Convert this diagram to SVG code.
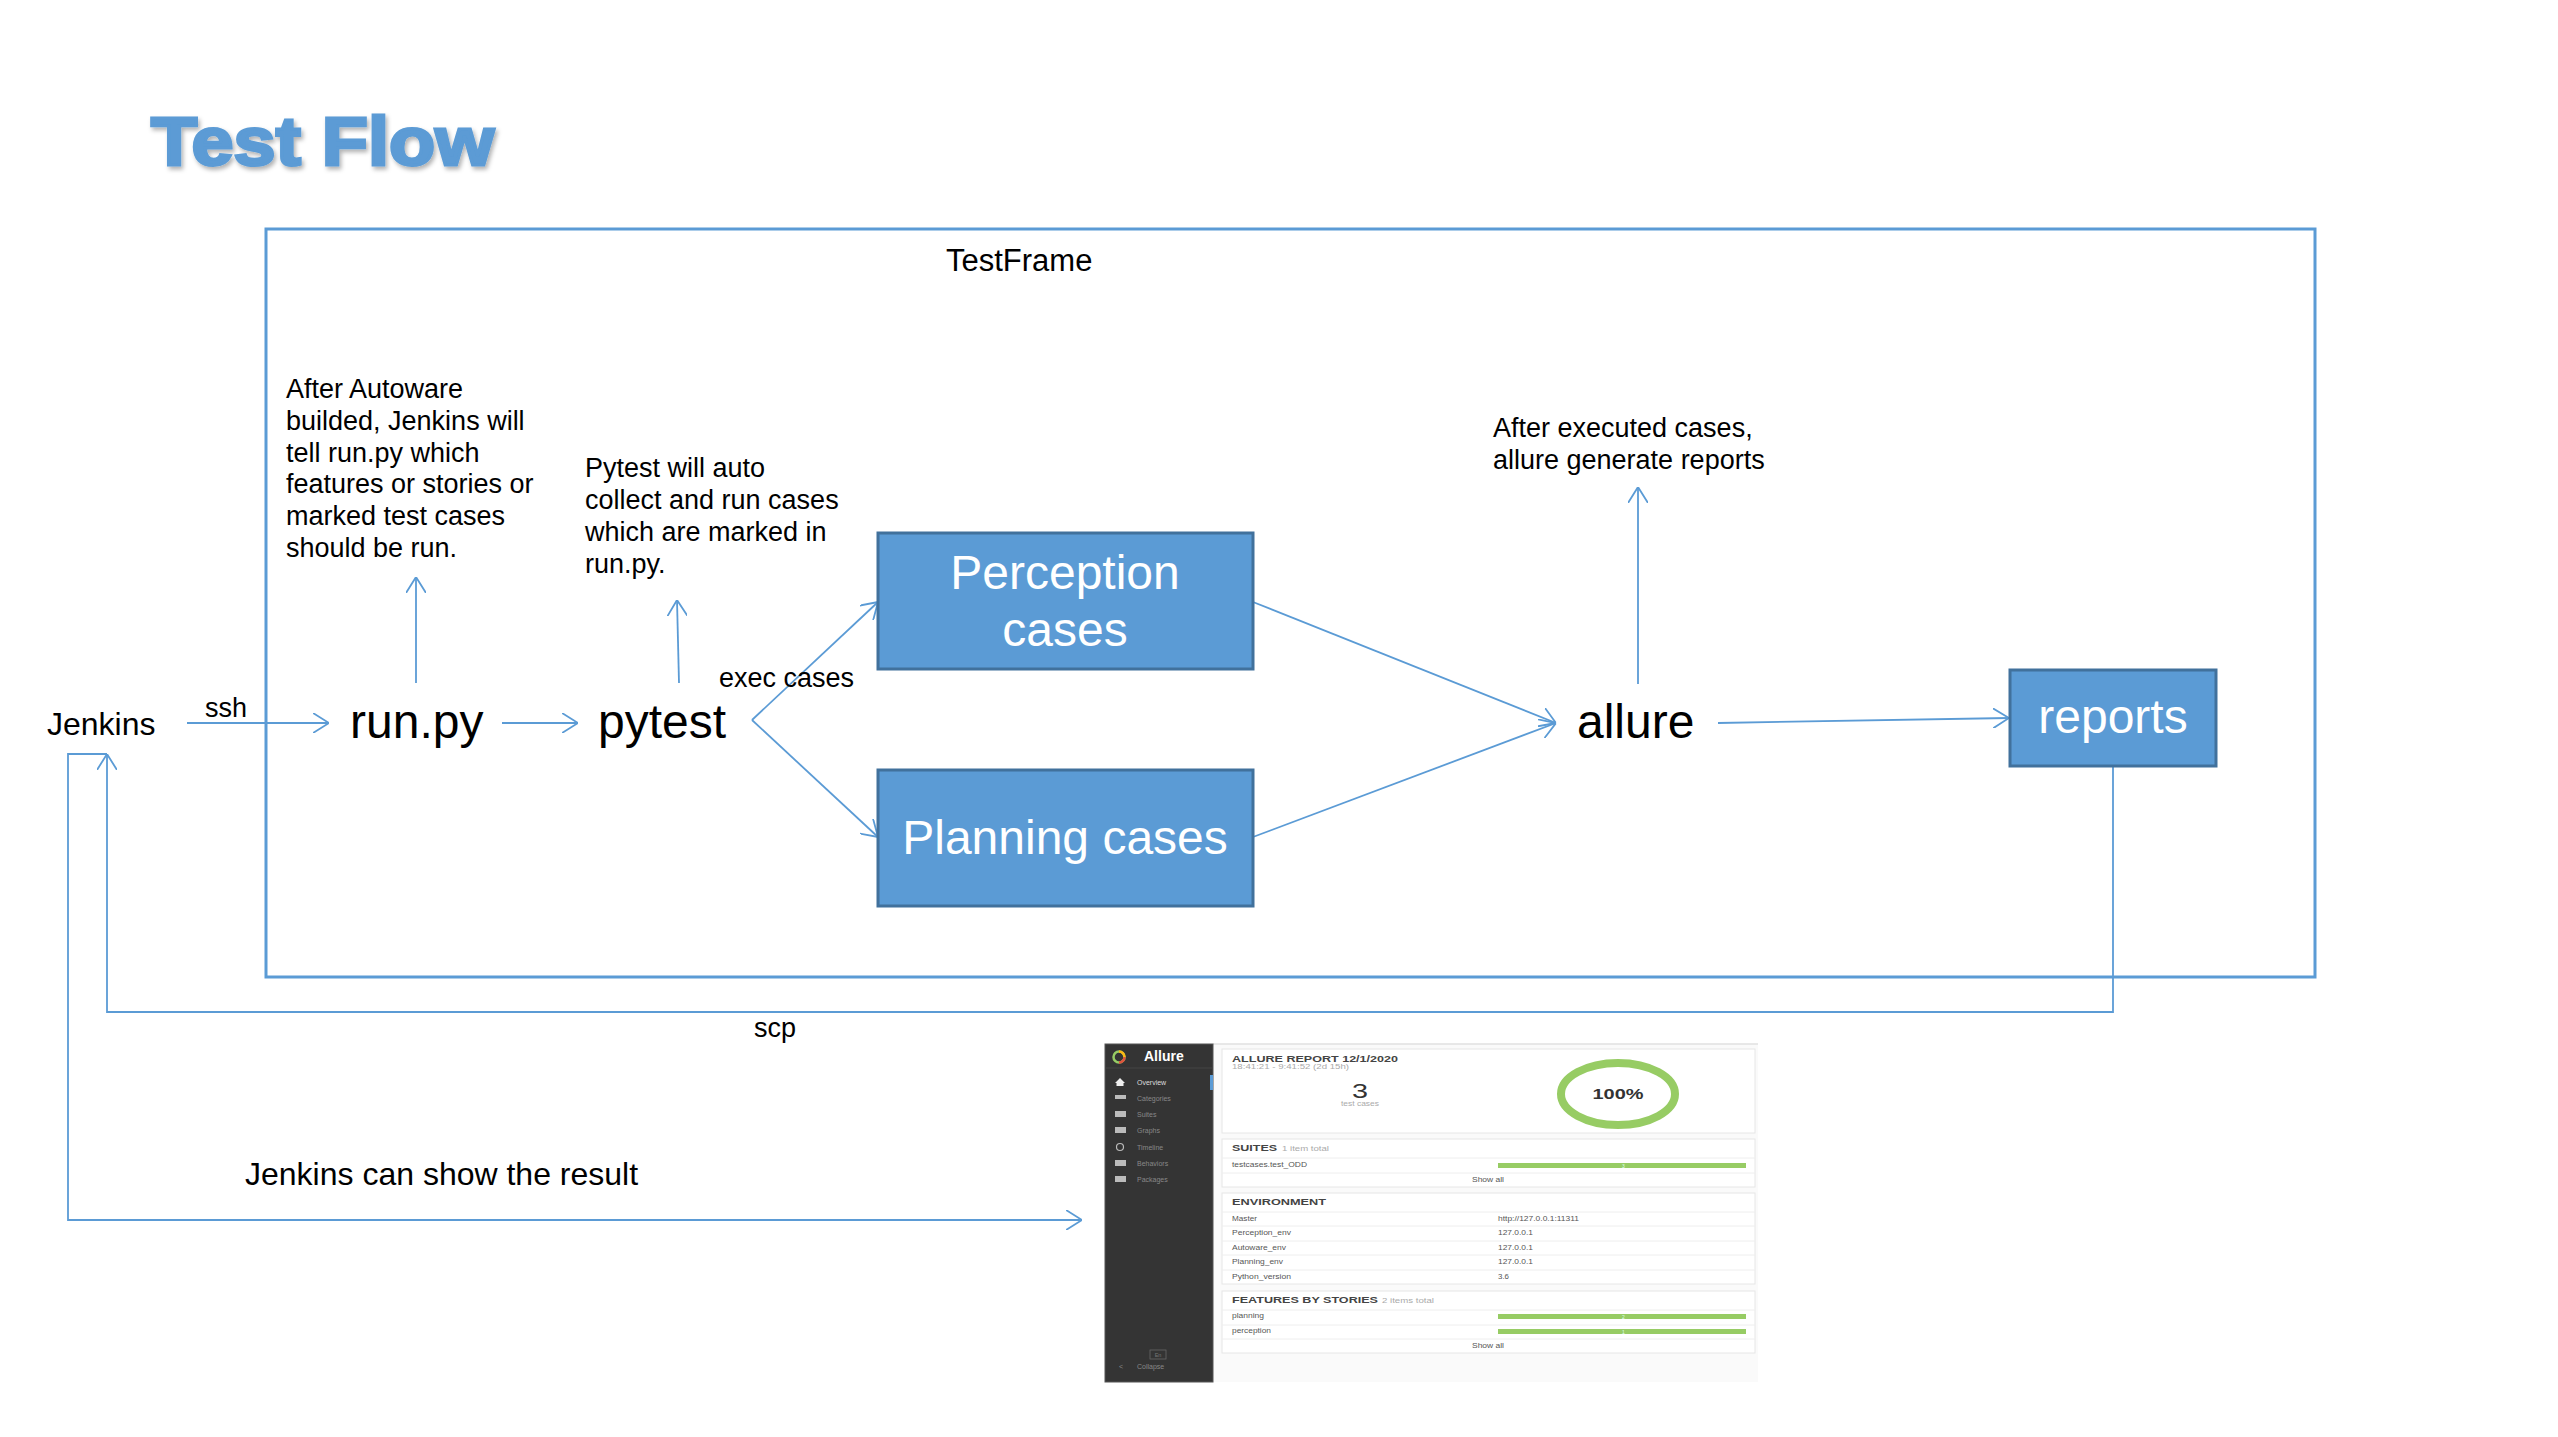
<svg xmlns="http://www.w3.org/2000/svg" width="2558" height="1437" viewBox="0 0 2558 1437">
<style>
.t{font-family:"Liberation Sans",Arial,sans-serif;fill:#000}
.note{font-size:27px}
.big{font-size:48px}
.box{fill:#5B9BD5;stroke:#41719C;stroke-width:3}
.bt{font-family:"Liberation Sans",Arial,sans-serif;font-size:48px;fill:#fff;text-anchor:middle}
.ln{fill:none;stroke:#5B9BD5;stroke-width:1.8}
.s{font-family:"Liberation Sans",Arial,sans-serif}
.sm{font-size:6.5px;fill:#555}
.side{font-size:7px;fill:#888}
.hd{font-size:8.5px;font-weight:bold;fill:#444}
.gr{font-size:6.5px;fill:#aaa}
.pan{fill:#fff;stroke:#e6e6e6;stroke-width:1}
.dv{stroke:#eeeeee;stroke-width:1}
.bar{fill:#97cc64}
</style>
<defs>
<marker id="ah" viewBox="0 0 16 20" refX="16" refY="10" markerWidth="16" markerHeight="20" markerUnits="userSpaceOnUse" orient="auto">
<path d="M0,0 L16,10 L0,20" fill="none" stroke="#5B9BD5" stroke-width="1.8"/>
</marker>
<filter id="sh" x="-5%" y="-20%" width="115%" height="150%">
<feDropShadow dx="2" dy="3" stdDeviation="2" flood-color="#000" flood-opacity="0.3"/>
</filter>
</defs>
<rect width="2558" height="1437" fill="#fff"/>

<g id="title">
<text x="151" y="165" class="t" font-size="68" font-weight="bold" fill="#5B9BD5" stroke="#5B9BD5" stroke-width="3" textLength="343" lengthAdjust="spacingAndGlyphs" filter="url(#sh)" style="fill:#5B9BD5">Test Flow</text>
</g>

<g id="testframe">
<rect x="266" y="229" width="2049" height="748" fill="none" stroke="#5B9BD5" stroke-width="3"/>
<text x="946" y="271" class="t" font-size="31">TestFrame</text>
</g>

<g id="connectors">
<path class="ln" d="M187,723 L329,723" marker-end="url(#ah)"/>
<path class="ln" d="M502,723 L578,723" marker-end="url(#ah)"/>
<path class="ln" d="M416,683 L416,577" marker-end="url(#ah)"/>
<path class="ln" d="M679,683 L677,600" marker-end="url(#ah)"/>
<path class="ln" d="M752,720 L878,602" marker-end="url(#ah)"/>
<path class="ln" d="M752,720 L878,837" marker-end="url(#ah)"/>
<path class="ln" d="M1253,602 L1556,723" marker-end="url(#ah)"/>
<path class="ln" d="M1253,837 L1556,723" marker-end="url(#ah)"/>
<path class="ln" d="M1638,684 L1638,487" marker-end="url(#ah)"/>
<path class="ln" d="M1718,723 L2009,718" marker-end="url(#ah)"/>
<path class="ln" d="M2113,766 V1012 H107 V754" marker-end="url(#ah)"/>
<path class="ln" d="M107,754 H68 V1220 H1082" marker-end="url(#ah)"/>
<text x="205" y="717" class="t note">ssh</text>
<text x="719" y="687" class="t note">exec cases</text>
<text x="754" y="1037" class="t note">scp</text>
<text x="245" y="1185" class="t" font-size="32">Jenkins can show the result</text>
</g>

<g id="jenkins"><text x="47" y="735" class="t" font-size="32">Jenkins</text></g>
<g id="runpy"><text x="350" y="738" class="t big">run.py</text></g>
<g id="pytest"><text x="598" y="738" class="t big">pytest</text></g>
<g id="allure"><text x="1577" y="738" class="t big">allure</text></g>

<g id="note-runpy">
<text class="t note" x="286">
<tspan x="286" y="398">After Autoware</tspan>
<tspan x="286" y="430">builded, Jenkins will</tspan>
<tspan x="286" y="462">tell run.py which</tspan>
<tspan x="286" y="493">features or stories or</tspan>
<tspan x="286" y="525">marked test cases</tspan>
<tspan x="286" y="557">should be run.</tspan>
</text>
</g>
<g id="note-pytest">
<text class="t note">
<tspan x="585" y="477">Pytest will auto</tspan>
<tspan x="585" y="509">collect and run cases</tspan>
<tspan x="585" y="541">which are marked in</tspan>
<tspan x="585" y="573">run.py.</tspan>
</text>
</g>
<g id="note-allure">
<text class="t note">
<tspan x="1493" y="437">After executed cases,</tspan>
<tspan x="1493" y="469">allure generate reports</tspan>
</text>
</g>

<g id="perception">
<rect class="box" x="878" y="533" width="375" height="136"/>
<text class="bt" x="1065" y="589">Perception</text>
<text class="bt" x="1065" y="646">cases</text>
</g>
<g id="planning">
<rect class="box" x="878" y="770" width="375" height="136"/>
<text class="bt" x="1065" y="854">Planning cases</text>
</g>
<g id="reports">
<rect class="box" x="2010" y="670" width="206" height="96"/>
<text class="bt" x="2113" y="733">reports</text>
</g>

<g id="screenshot">
<rect x="1105" y="1044" width="653" height="338" fill="#fafafa"/>
<line x1="1213" y1="1044" x2="1758" y2="1044" stroke="#e0e0e0" stroke-width="1.5"/>
<rect x="1105" y="1044" width="108" height="338" fill="#343434" stroke="#555" stroke-width="1"/>
<circle cx="1119" cy="1057" r="5.5" fill="none" stroke="#97cc64" stroke-width="2.5"/>
<path d="M1119,1051.5 A5.5,5.5 0 0 1 1124.5,1057" fill="none" stroke="#fdb813" stroke-width="2.5"/>
<path d="M1124.5,1057 A5.5,5.5 0 0 1 1119,1062.5" fill="none" stroke="#e0533d" stroke-width="2.5"/>
<text x="1144" y="1061" class="s" font-size="14" font-weight="bold" fill="#fff">Allure</text>
<line x1="1105" y1="1068" x2="1213" y2="1068" stroke="#444" stroke-width="1"/>
<rect x="1210" y="1075" width="3" height="15" fill="#5B9BD5"/>
<g fill="#bbb">
<path d="M1115,1083 L1120,1078 L1125,1083 L1123.5,1083 L1123.5,1086 L1116.5,1086 L1116.5,1083 Z" fill="#eee"/>
<rect x="1115" y="1095" width="11" height="4"/>
<rect x="1115" y="1111" width="11" height="6"/>
<rect x="1115" y="1127" width="11" height="6"/>
<circle cx="1120" cy="1147" r="3.5" fill="none" stroke="#bbb" stroke-width="1.2"/>
<rect x="1115" y="1160" width="11" height="6"/>
<rect x="1115" y="1176" width="11" height="6"/>
</g>
<text x="1137" y="1085" class="s side" fill="#ddd" style="fill:#ddd">Overview</text>
<text x="1137" y="1101" class="s side">Categories</text>
<text x="1137" y="1117" class="s side">Suites</text>
<text x="1137" y="1133" class="s side">Graphs</text>
<text x="1137" y="1150" class="s side">Timeline</text>
<text x="1137" y="1166" class="s side">Behaviors</text>
<text x="1137" y="1182" class="s side">Packages</text>
<rect x="1150" y="1350" width="16" height="9" fill="none" stroke="#666" stroke-width="0.8"/>
<text x="1158" y="1357" class="s" font-size="5.5" fill="#777" text-anchor="middle">En</text>
<text x="1119" y="1369" class="s side">&lt;</text>
<text x="1137" y="1369" class="s side">Collapse</text>

<rect class="pan" x="1222" y="1049" width="533" height="84"/>
<text x="1232" y="1062" class="s hd" textLength="166" lengthAdjust="spacingAndGlyphs">ALLURE REPORT 12/1/2020</text>
<text x="1232" y="1069" class="s gr" textLength="117" lengthAdjust="spacingAndGlyphs">18:41:21 - 9:41:52 (2d 15h)</text>
<text x="1360" y="1098" class="s" font-size="20" fill="#333" text-anchor="middle" textLength="16" lengthAdjust="spacingAndGlyphs">3</text>
<text x="1360" y="1106" class="s gr" text-anchor="middle" textLength="38" lengthAdjust="spacingAndGlyphs">test cases</text>
<ellipse cx="1618" cy="1094" rx="57" ry="31" fill="none" stroke="#97cc64" stroke-width="8"/>
<text x="1618" y="1099" class="s" font-size="14" font-weight="bold" fill="#333" text-anchor="middle" textLength="51" lengthAdjust="spacingAndGlyphs">100%</text>

<rect class="pan" x="1222" y="1139" width="533" height="48"/>
<text x="1232" y="1151" class="s hd" textLength="45" lengthAdjust="spacingAndGlyphs">SUITES</text>
<text x="1282" y="1151" class="s gr" textLength="47" lengthAdjust="spacingAndGlyphs">1 item total</text>
<line class="dv" x1="1222" y1="1158" x2="1755" y2="1158"/>
<text x="1232" y="1167" class="s sm" textLength="75" lengthAdjust="spacingAndGlyphs">testcases.test_ODD</text>
<rect class="bar" x="1498" y="1163" width="248" height="5"/>
<text x="1622" y="1167.5" class="s" font-size="5" fill="#dfe">3</text>
<line class="dv" x1="1222" y1="1173" x2="1755" y2="1173"/>
<text x="1488" y="1182" class="s sm" text-anchor="middle" textLength="32" lengthAdjust="spacingAndGlyphs">Show all</text>

<rect class="pan" x="1222" y="1193" width="533" height="91"/>
<text x="1232" y="1205" class="s hd" textLength="94" lengthAdjust="spacingAndGlyphs">ENVIRONMENT</text>
<line class="dv" x1="1222" y1="1212" x2="1755" y2="1212"/>
<line class="dv" x1="1222" y1="1226" x2="1755" y2="1226"/>
<line class="dv" x1="1222" y1="1241" x2="1755" y2="1241"/>
<line class="dv" x1="1222" y1="1255" x2="1755" y2="1255"/>
<line class="dv" x1="1222" y1="1270" x2="1755" y2="1270"/>
<text x="1232" y="1221" class="s sm" textLength="25" lengthAdjust="spacingAndGlyphs">Master</text>
<text x="1498" y="1221" class="s sm" textLength="81" lengthAdjust="spacingAndGlyphs">http://127.0.0.1:11311</text>
<text x="1232" y="1235" class="s sm" textLength="59" lengthAdjust="spacingAndGlyphs">Perception_env</text>
<text x="1498" y="1235" class="s sm" textLength="35" lengthAdjust="spacingAndGlyphs">127.0.0.1</text>
<text x="1232" y="1250" class="s sm" textLength="54" lengthAdjust="spacingAndGlyphs">Autoware_env</text>
<text x="1498" y="1250" class="s sm" textLength="35" lengthAdjust="spacingAndGlyphs">127.0.0.1</text>
<text x="1232" y="1264" class="s sm" textLength="51" lengthAdjust="spacingAndGlyphs">Planning_env</text>
<text x="1498" y="1264" class="s sm" textLength="35" lengthAdjust="spacingAndGlyphs">127.0.0.1</text>
<text x="1232" y="1279" class="s sm" textLength="59" lengthAdjust="spacingAndGlyphs">Python_version</text>
<text x="1498" y="1279" class="s sm" textLength="11" lengthAdjust="spacingAndGlyphs">3.6</text>

<rect class="pan" x="1222" y="1291" width="533" height="62"/>
<text x="1232" y="1303" class="s hd" textLength="146" lengthAdjust="spacingAndGlyphs">FEATURES BY STORIES</text>
<text x="1382" y="1303" class="s gr" textLength="52" lengthAdjust="spacingAndGlyphs">2 items total</text>
<line class="dv" x1="1222" y1="1310" x2="1755" y2="1310"/>
<text x="1232" y="1318" class="s sm" textLength="32" lengthAdjust="spacingAndGlyphs">planning</text>
<rect class="bar" x="1498" y="1314" width="248" height="5"/>
<text x="1622" y="1318.5" class="s" font-size="5" fill="#dfe">2</text>
<line class="dv" x1="1222" y1="1325" x2="1755" y2="1325"/>
<text x="1232" y="1333" class="s sm" textLength="39" lengthAdjust="spacingAndGlyphs">perception</text>
<rect class="bar" x="1498" y="1329" width="248" height="5"/>
<text x="1622" y="1333.5" class="s" font-size="5" fill="#dfe">1</text>
<line class="dv" x1="1222" y1="1339" x2="1755" y2="1339"/>
<text x="1488" y="1348" class="s sm" text-anchor="middle" textLength="32" lengthAdjust="spacingAndGlyphs">Show all</text>
</g>
</svg>
